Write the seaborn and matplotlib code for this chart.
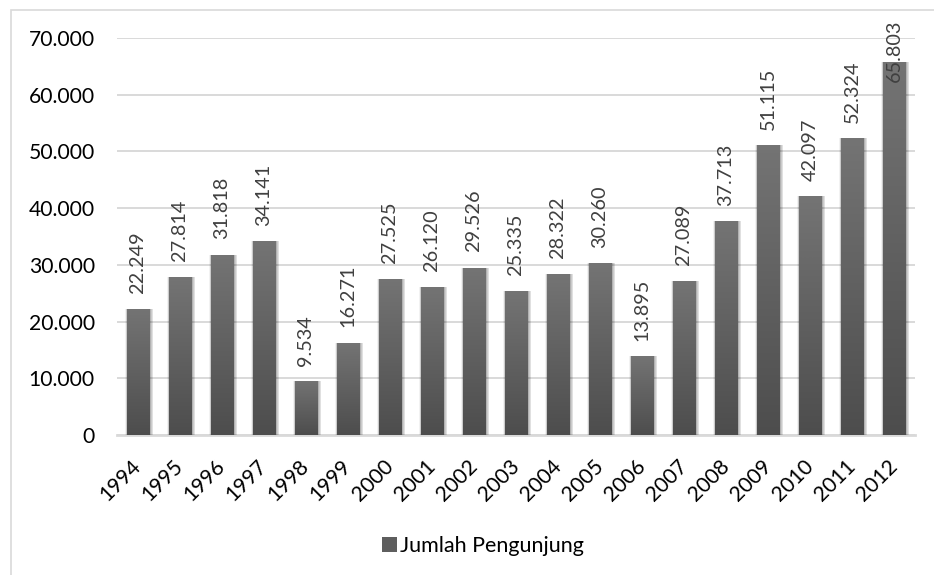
import numpy as np
import pandas as pd
import matplotlib
matplotlib.use("Agg")
import matplotlib.pyplot as plt
import seaborn as sns
from matplotlib.patches import Rectangle
from matplotlib.colors import LinearSegmentedColormap

# Annual visitor counts
years = ["1994", "1995", "1996", "1997", "1998", "1999", "2000", "2001", "2002", "2003",
         "2004", "2005", "2006", "2007", "2008", "2009", "2010", "2011", "2012"]
visitors = [22249, 27814, 31818, 34141, 9534, 16271, 27525, 26120, 29526, 25335,
            28322, 30260, 13895, 27089, 37713, 51115, 42097, 52324, 65803]
series_name = "Jumlah Pengunjung"
y_ticks = [0, 10000, 20000, 30000, 40000, 50000, 60000, 70000]

df = pd.DataFrame({"Tahun": years, series_name: visitors})

sns.set_theme(style="white")
plt.rcParams["font.family"] = ["Lato", "DejaVu Sans"]

W, H = 934, 575
fig = plt.figure(figsize=(W / 100, H / 100), dpi=100)
ax = fig.add_axes([117 / W, 1 - 435 / H, (915 - 117) / W, (435 - 38) / H])

sns.barplot(data=df, x="Tahun", y=series_name, color="#5e5e5e", width=0.524,
            ax=ax, zorder=3)

ax.set_ylim(0, 70000)
ax.set_xlim(-0.5, len(years) - 0.5)
ax.set_yticks(y_ticks)
ax.set_yticklabels(["{:,}".format(t).replace(",", ".") for t in y_ticks])
ax.yaxis.grid(True, color="#d9d9d9", linewidth=1.4, zorder=0)
ax.set_axisbelow(True)
for s in ["top", "right", "left"]:
    ax.spines[s].set_visible(False)
ax.spines["bottom"].set_color("#d9d9d9")
ax.spines["bottom"].set_linewidth(2)
ax.spines["bottom"].set_zorder(1)
ax.set_xlabel("")
ax.set_ylabel("")
ax.tick_params(axis="y", length=0, pad=16, labelsize=15.2, labelcolor="#000000")
ax.tick_params(axis="x", length=0, pad=20, labelsize=15.2, labelcolor="#000000")
for lab in ax.get_xticklabels():
    lab.set_rotation(45)
    lab.set_ha("right")
    lab.set_va("center")
    lab.set_rotation_mode("anchor")

# Vertical gradient fill and a soft shadow for each bar
cmap = LinearSegmentedColormap.from_list("bar", ["#4d4d4d", "#747474"])
grad = np.linspace(0, 1, 256).reshape(-1, 1)
for p in list(ax.patches):
    x0, w, h = p.get_x(), p.get_width(), p.get_height()
    for k, a in zip([0.16, 0.12, 0.08, 0.04], [0.05, 0.07, 0.09, 0.12]):
        ax.add_patch(Rectangle((x0 - k * 0.4 + 0.02, 0), w + k * 0.8 + 0.02, h,
                               facecolor="#000000", alpha=a, linewidth=0,
                               zorder=2))
    im = ax.imshow(grad, cmap=cmap, origin="lower", aspect="auto",
                   extent=(x0, x0 + w, 0, h), zorder=4, interpolation="bilinear")
    im.set_clip_path(p)
    p.set_edgecolor("none")

# Value labels above bars, kept inside the chart frame
fig.canvas.draw()
renderer = fig.canvas.get_renderer()
top_limit = H - 20
gap = 11
for i, v in enumerate(visitors):
    t = ax.annotate("{:,}".format(v).replace(",", "."), (i, v), xytext=(0, gap),
                    textcoords="offset points", rotation=90, ha="center",
                    va="bottom", fontsize=14.3, color="#404040", zorder=6)
    bb = t.get_window_extent(renderer)
    if bb.y1 > top_limit:
        t.set_position((0, gap - (bb.y1 - top_limit) * 72 / fig.dpi))

# Legend below the plot
handle = Rectangle((0, 0), 1, 1, facecolor="#5e5e5e", edgecolor="none")
fig.legend([handle], [series_name], loc="center", bbox_to_anchor=(483 / W, 1 - 546 / H),
           frameon=False, fontsize=15.5, handlelength=0.7, handleheight=0.7,
           handletextpad=0.12, labelcolor="#000000")

# Chart frame
fig.patches.append(Rectangle((11 / W, -0.1), 1.0, 1 - 10 / H + 0.1,
                             transform=fig.transFigure, fill=False,
                             edgecolor="#d9d9d9", linewidth=1.2))

fig.savefig("out.png", dpi=100)
